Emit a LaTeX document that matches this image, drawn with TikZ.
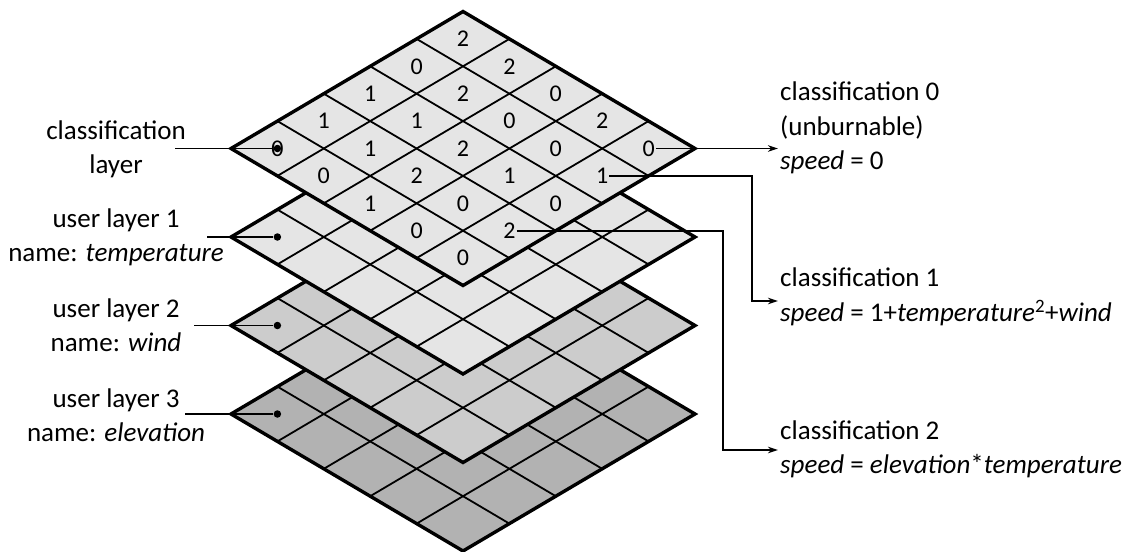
\documentclass[tikz,border=0pt]{standalone}
\usepackage{fontspec}
\setmainfont{Carlito}
\usetikzlibrary{arrows.meta}

% one diamond-shaped 5x5 raster layer, centred at (463,#1), filled with #2
\newcommand\gridlayer[2]{%
  \fill[#2] (463,#1-137) -- (695,#1) -- (463,#1+137) -- (231,#1) -- cycle;
  \foreach \k in {1,...,4}{%
    \draw[gridline] (463-46.4*\k,#1-137+27.4*\k) -- (695-46.4*\k,#1+27.4*\k);
    \draw[gridline] (463+46.4*\k,#1-137+27.4*\k) -- (231+46.4*\k,#1+27.4*\k);
  }
  \draw[border] (463,#1-137) -- (695,#1) -- (463,#1+137) -- (231,#1) -- cycle;
}

\begin{document}
\begin{tikzpicture}[x=1pt,y=-1pt,
  gridline/.style={line width=1.8pt},
  border/.style={line width=3.4pt,line join=miter},
  cellnum/.style={font=\fontsize{24}{28}\selectfont,inner sep=1pt},
  dot/.style={circle,fill=black,inner sep=0pt,minimum size=7.5pt},
  label/.style={font=\fontsize{27}{34}\selectfont,align=center},
  note/.style={font=\fontsize{27}{34.5}\selectfont,align=left,anchor=west,inner sep=2pt},
  conn/.style={line width=1.8pt},
  arr/.style={line width=1.8pt,-{Stealth[length=10pt,width=6.5pt]}}]
\useasboundingbox (0,0) rectangle (1131,551);

% layers, from the bottom up
\gridlayer{414}{black!30}
\gridlayer{325.5}{black!20}
\gridlayer{237}{black!10}
\gridlayer{148.5}{black!10}

% classification values of the top layer
\foreach \row [count=\i from 0] in {{2,2,0,2,0},{0,2,0,0,1},{1,1,2,1,0},{1,1,2,0,2},{0,0,1,0,0}}{
  \foreach \v [count=\j from 0] in \row{
    \node[cellnum] (c-\i-\j) at (463-46.4*\i-23.2+46.4*\j+23.2, 11.5+27.4*\i+13.7+27.4*\j+13.7) {\v};
  }
}

% reference dots, one per layer
\node[dot] (d0) at (277.4,148.5) {};
\node[dot] (d1) at (277.4,237) {};
\node[dot] (d2) at (277.4,325.5) {};
\node[dot] (d3) at (277.4,414) {};

% layer names
\node[label] (l0) at (116,149) {classification\\layer};
\node[label] (l1) at (116,237) {user layer 1\\name: \textit{temperature}};
\node[label] (l2) at (116,325.5) {user layer 2\\name: \textit{wind}};
\node[label] (l3) at (116,415) {user layer 3\\name: \textit{elevation}};

\coordinate (s0) at (175,148.5);
\coordinate (s1) at (207,237);
\coordinate (s2) at (194,325.5);
\coordinate (s3) at (185,414);
\draw[conn] (s0) -- (d0);
\draw[conn] (s1) -- (d1);
\draw[conn] (s2) -- (d2);
\draw[conn] (s3) -- (d3);

% classification rules
\node[note] (k0) at (778,128) {classification 0\\(unburnable)\\\textit{speed} = 0};
\node[note] (k1) at (778,297) {classification 1\\\textit{speed} = 1+\textit{temperature}\textsuperscript{2}+\textit{wind}};
\node[note] (k2) at (778,449.5) {classification 2\\\textit{speed} = \textit{elevation}*\textit{temperature}};

\coordinate (b1) at (752,301);
\coordinate (b2) at (723,450);
\draw[arr] (c-0-4.east) -- (c-0-4.east -| k0.west);
\draw[arr] (c-1-4.east) -| (b1) -- (b1 -| k1.west);
\draw[arr] (c-3-4.east) -| (b2) -- (b2 -| k2.west);
\end{tikzpicture}
\end{document}
